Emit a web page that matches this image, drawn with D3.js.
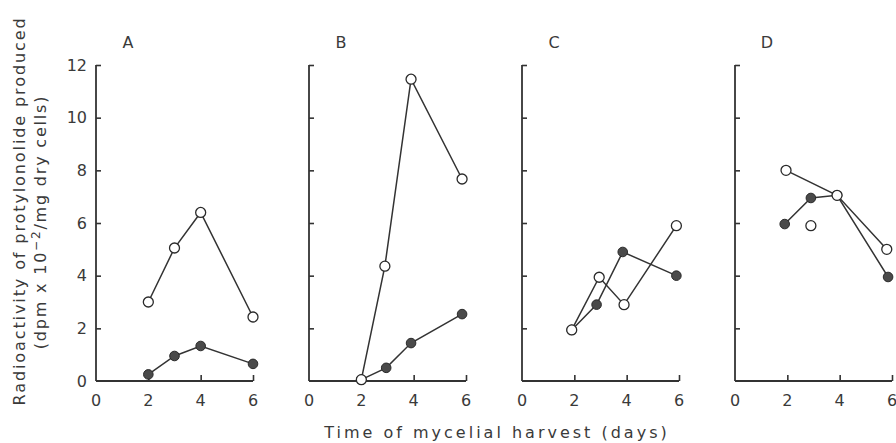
<!DOCTYPE html>
<html><head><meta charset="utf-8">
<script src="https://cdn.jsdelivr.net/npm/d3@7"></script>
<style>
body{margin:0;background:#fff;}
text{font-family:"DejaVu Sans",sans-serif;fill:#3a3a3a;}
</style></head>
<body><svg id="c" width="896" height="443"></svg>
<script>
const panels = ["A","B","C","D"];
const xTicks = [0,2,4,6];
const yTicks = [0,2,4,6,8,10,12];
// open-circle series (connected)
const openX = [[2,3,4,6],[2,2.9,3.9,5.85],[1.9,2.95,3.9,5.9],[1.95,3.9,5.8]];
const openY = [[3.0,5.05,6.4,2.43],[0.05,4.36,11.46,7.67],[1.94,3.94,2.9,5.9],[8.0,7.05,5.0]];
// open-circle points not joined by a line
const openExtraX = [[],[],[],[2.9]];
const openExtraY = [[],[],[],[5.9]];
// filled-circle series
const filledX = [[2,3,4,6],[2,2.95,3.9,5.85],[1.9,2.85,3.85,5.9],[1.9,2.9,3.9,5.85]];
const filledY = [[0.25,0.95,1.33,0.65],[0.05,0.5,1.44,2.54],[1.94,2.9,4.9,4.0],[5.96,6.95,7.05,3.95]];

const svg = d3.select("#c");
const ink = "#333";
const y = d3.scaleLinear().domain([0,12]).range([381,65]);
const panelLeft = [96,309,522,735];
const pw = 157;

panels.forEach((p,i)=>{
  const x = d3.scaleLinear().domain([0,6]).range([panelLeft[i], panelLeft[i]+pw]);
  const g = svg.append("g");
  // y axis: ticks inward
  const ya = g.append("g").attr("transform",`translate(${panelLeft[i]},0)`)
    .call(d3.axisRight(y).tickValues(yTicks.slice(1)).tickSize(5).tickFormat(""));
  ya.select(".domain").remove();
  ya.selectAll("line").attr("stroke",ink).attr("stroke-width",1.6);
  g.append("line").attr("x1",panelLeft[i]).attr("x2",panelLeft[i]).attr("y1",y(12)).attr("y2",y(0))
    .attr("stroke",ink).attr("stroke-width",1.8);
  if(i===0){
    g.selectAll(".yl").data(yTicks).join("text").attr("class","yl")
      .attr("x",panelLeft[i]-9).attr("y",d=>y(d)).attr("dy","0.36em")
      .attr("text-anchor","end").attr("font-size",16).text(d=>d);
  }
  // x axis: ticks inward (upward)
  const xa = g.append("g").attr("transform",`translate(0,${y(0)})`)
    .call(d3.axisTop(x).tickValues(xTicks.slice(1)).tickSize(6).tickFormat(""));
  xa.select(".domain").remove();
  xa.selectAll("line").attr("stroke",ink).attr("stroke-width",1.6);
  g.append("line").attr("x1",x(0)).attr("x2",x(6)).attr("y1",y(0)).attr("y2",y(0))
    .attr("stroke",ink).attr("stroke-width",1.8);
  g.selectAll(".xl").data(xTicks).join("text").attr("class","xl")
    .attr("x",d=>x(d)).attr("y",406).attr("text-anchor","middle").attr("font-size",16).text(d=>d);
  // panel letter
  g.append("text").attr("x",panelLeft[i]+32).attr("y",48).attr("text-anchor","middle")
    .attr("font-size",16).text(p);

  const line = d3.line().x(d=>x(d[0])).y(d=>y(d[1]));
  const op = openX[i].map((v,k)=>[v,openY[i][k]]);
  const fp = filledX[i].map((v,k)=>[v,filledY[i][k]]);
  const ep = openExtraX[i].map((v,k)=>[v,openExtraY[i][k]]);
  g.append("path").datum(fp).attr("d",line).attr("fill","none").attr("stroke",ink).attr("stroke-width",1.5);
  g.append("path").datum(op).attr("d",line).attr("fill","none").attr("stroke",ink).attr("stroke-width",1.5);
  g.selectAll(".fc").data(fp).join("circle").attr("class","fc")
    .attr("cx",d=>x(d[0])).attr("cy",d=>y(d[1])).attr("r",4.8)
    .attr("fill","#4a4a4a").attr("stroke","#2a2a2a").attr("stroke-width",1);
  g.selectAll(".oc").data(op.concat(ep)).join("circle").attr("class","oc")
    .attr("cx",d=>x(d[0])).attr("cy",d=>y(d[1])).attr("r",5)
    .attr("fill","#fff").attr("stroke","#2a2a2a").attr("stroke-width",1.3);
});

// axis titles
svg.append("text").attr("x",497).attr("y",438).attr("text-anchor","middle")
  .attr("font-size",16).attr("letter-spacing",3.0).text("Time of mycelial harvest (days)");
const yt = svg.append("g").attr("transform","translate(25,211) rotate(-90)");
yt.append("text").attr("x",0).attr("y",0).attr("text-anchor","middle")
  .attr("font-size",16).attr("letter-spacing",1.9).text("Radioactivity of protylonolide produced");
const t2 = yt.append("text").attr("x",-11).attr("y",21).attr("text-anchor","middle")
  .attr("font-size",16).attr("letter-spacing",1.8);
t2.append("tspan").text("(dpm x 10");
t2.append("tspan").attr("dy",-6).attr("font-size",12).text("−2");
t2.append("tspan").attr("dy",6).text("/mg dry cells)");
</script></body></html>
